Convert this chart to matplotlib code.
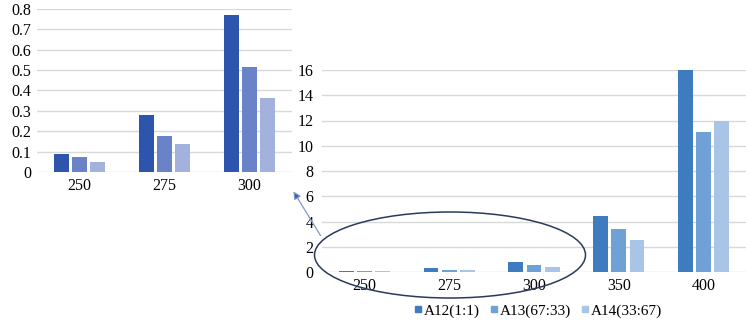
import numpy as np
import matplotlib.pyplot as plt
from matplotlib.patches import Ellipse, FancyArrowPatch
from matplotlib.lines import Line2D

plt.rcParams['font.family'] = ['Liberation Serif', 'DejaVu Serif']

# data
series = ['A12(1:1)', 'A13(67:33)', 'A14(33:67)']
cats_main = ['250', '275', '300', '350', '400']
a12 = [0.09, 0.28, 0.77, 4.4, 16.0]
a13 = [0.075, 0.177, 0.517, 3.4, 11.1]
a14 = [0.05, 0.137, 0.365, 2.55, 11.95]
cats_zoom = ['250', '275', '300']
main_ticks = [0, 2, 4, 6, 8, 10, 12, 14, 16]
zoom_ticks = [0, 0.1, 0.2, 0.3, 0.4, 0.5, 0.6, 0.7, 0.8]

main_colors = ['#3F7CBF', '#6FA0D6', '#A9C4E6']
zoom_colors = ['#2E55AE', '#6A82C8', '#A3B2DC']
grid_c = '#D9D9D9'

W, H = 746, 321
fig = plt.figure(figsize=(W / 100, H / 100), dpi=100)

def px(x0, y0, x1, y1):
    return [x0 / W, 1 - y1 / H, (x1 - x0) / W, (y1 - y0) / H]

def style(ax, ticks, labels, cats):
    for s in ax.spines.values():
        s.set_visible(False)
    ax.set_yticks(ticks)
    ax.set_yticklabels(labels)
    ax.set_xticks(range(len(cats)))
    ax.set_xticklabels(cats)
    ax.tick_params(length=0, labelsize=11.5, pad=4)
    ax.grid(axis='y', color=grid_c, lw=1)
    ax.set_axisbelow(True)

# main chart
ax = fig.add_axes(px(322, 70, 746, 272))
x = np.arange(len(cats_main))
w = 0.175
off = 0.215
for i, (vals, c) in enumerate(zip([a12, a13, a14], main_colors)):
    ax.bar(x + (i - 1) * off, vals, w, color=c)
ax.set_xlim(-0.5, len(cats_main) - 0.5)
ax.set_ylim(0, 16)
style(ax, main_ticks, [str(t) for t in main_ticks], cats_main)
ax.tick_params(axis='y', pad=6)

# zoomed inset
ax2 = fig.add_axes(px(37, 9, 292, 172))
xz = np.arange(len(cats_zoom))
for i, (vals, c) in enumerate(zip([a12, a13, a14], zoom_colors)):
    ax2.bar(xz + (i - 1) * 0.215, vals[:3], w, color=c)
ax2.set_xlim(-0.5, len(cats_zoom) - 0.5)
ax2.set_ylim(0, 0.8)
style(ax2, zoom_ticks, ['0'] + ['%.1f' % t for t in zoom_ticks[1:]], cats_zoom)

# ellipse + arrow
ell = Ellipse((450 / W, 1 - 255 / H), 271 / W, 86 / H, transform=fig.transFigure,
              fill=False, ec='#2B3A5C', lw=1.1)
fig.add_artist(ell)
arr = FancyArrowPatch((322 / W, 1 - 238 / H), (292 / W, 1 - 189 / H),
                      transform=fig.transFigure, arrowstyle='-|>', mutation_scale=11,
                      ec='#8196C8', fc='#2E5CC0', lw=0.9)
fig.add_artist(arr)

# legend
handles = [Line2D([], [], ls='', marker='s', ms=4.5, color=c) for c in main_colors]
fig.legend(handles, series, loc='center', bbox_to_anchor=(537 / W, 1 - 311 / H),
           ncol=3, frameon=False, fontsize=11, handletextpad=0.0,
           columnspacing=0.5, handlelength=0.8, borderaxespad=0)

fig.savefig('out.png', dpi=100)
